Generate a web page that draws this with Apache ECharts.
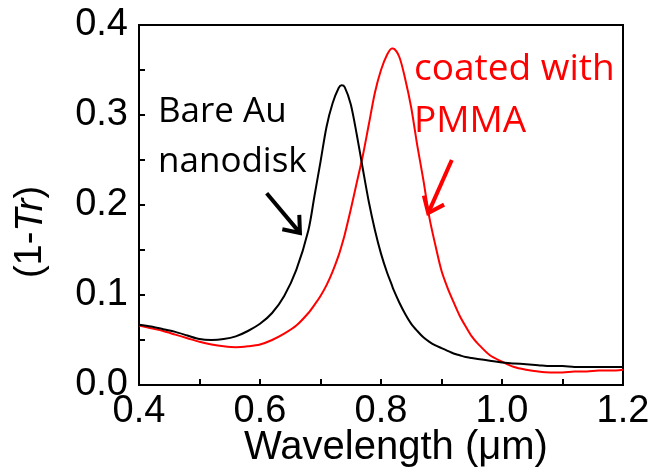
<!DOCTYPE html>
<html>
<head>
<meta charset="utf-8">
<script src="https://cdn.jsdelivr.net/npm/echarts@6/dist/echarts.min.js"></script>
<style>
html,body{margin:0;padding:0;background:#fff;}
#c{width:656px;height:469px;}
</style>
</head>
<body>
<div id="c"></div>
<script>
// Wavelength grid (µm)
const wavelength = [0.40,0.42,0.44,0.46,0.48,0.50,0.52,0.54,0.56,0.58,0.60,0.62,0.64,0.66,0.68,0.69,0.70,0.71,0.72,0.73,0.735,0.74,0.75,0.76,0.77,0.78,0.79,0.80,0.81,0.818,0.82,0.83,0.84,0.85,0.86,0.87,0.88,0.89,0.90,0.91,0.92,0.93,0.94,0.95,0.96,0.98,1.00,1.02,1.04,1.06,1.08,1.10,1.12,1.14,1.16,1.18,1.20];
// Bare Au nanodisk (1-Tr)
const bareAu = [0.067,0.065,0.062,0.059,0.055,0.051,0.050,0.051,0.054,0.060,0.068,0.080,0.099,0.128,0.172,0.210,0.248,0.287,0.313,0.330,0.333,0.331,0.312,0.278,0.240,0.203,0.172,0.146,0.125,0.111,0.107,0.092,0.079,0.068,0.060,0.053,0.048,0.044,0.041,0.038,0.035,0.033,0.031,0.030,0.029,0.027,0.025,0.024,0.023,0.022,0.021,0.021,0.020,0.020,0.020,0.020,0.020];
// Coated with PMMA (1-Tr)
const pmma = [0.066,0.063,0.060,0.056,0.052,0.048,0.045,0.043,0.042,0.043,0.045,0.050,0.057,0.066,0.080,0.089,0.099,0.111,0.126,0.144,0.155,0.167,0.195,0.225,0.255,0.290,0.325,0.350,0.367,0.374,0.374,0.365,0.340,0.308,0.266,0.228,0.186,0.155,0.127,0.108,0.092,0.077,0.065,0.054,0.046,0.033,0.026,0.020,0.017,0.015,0.014,0.014,0.015,0.015,0.016,0.016,0.017];
// Axis ranges / ticks (minor step; labels every second tick)
const xRange = [0.4, 1.2], xStep = 0.1;
const yRange = [0.0, 0.4], yStep = 0.05;
// Annotation arrows in data coordinates: [start, tip]
const arrowBare = [[0.611, 0.213], [0.666, 0.169]];
const arrowPmma = [[0.917, 0.250], [0.878, 0.191]];

const chart = echarts.init(document.getElementById('c'), null, {renderer: 'canvas'});
const axisFont = 'Liberation Sans, Arial, sans-serif';
const noteFont = 'Open Sans, sans-serif';

const option = {
  animation: false,
  backgroundColor: '#fff',
  grid: {left: 139, top: 25, right: 33, bottom: 84, show: true, borderColor: '#000', borderWidth: 2, outerBoundsMode: 'none'},
  xAxis: {
    type: 'value', min: xRange[0], max: xRange[1], interval: xStep,
    axisLine: {show: true, lineStyle: {color: '#000', width: 2}},
    axisTick: {show: true, inside: true, length: 6, lineStyle: {color: '#000', width: 2}},
    splitLine: {show: false},
    axisLabel: {color: '#000', fontFamily: axisFont, fontSize: 38, margin: 8,
      formatter: v => (Math.round(v * 10) % 2 === 0 ? v.toFixed(1) : '')}
  },
  yAxis: {
    type: 'value', min: yRange[0], max: yRange[1], interval: yStep,
    axisLine: {show: true, lineStyle: {color: '#000', width: 2}},
    axisTick: {show: true, inside: true, length: 6, lineStyle: {color: '#000', width: 2}},
    splitLine: {show: false},
    axisLabel: {color: '#000', fontFamily: axisFont, fontSize: 38, margin: 11,
      formatter: v => (Math.round(v * 20) % 2 === 0 ? v.toFixed(1) : '')}
  },
  series: [
    {name: 'Bare Au nanodisk', type: 'line', data: wavelength.map((w, i) => [w, bareAu[i]]), showSymbol: false, smooth: 0.3, lineStyle: {color: '#000', width: 2}, z: 3},
    {name: 'coated with PMMA', type: 'line', data: wavelength.map((w, i) => [w, pmma[i]]), showSymbol: false, smooth: 0.3, lineStyle: {color: '#ff0000', width: 2}, z: 2}
  ]
};
chart.setOption(option);

function arrowGraphics(pair, color) {
  const s = chart.convertToPixel({gridIndex: 0}, pair[0]);
  const t = chart.convertToPixel({gridIndex: 0}, pair[1]);
  const dx = t[0] - s[0], dy = t[1] - s[1];
  const len = Math.hypot(dx, dy);
  const ux = dx / len, uy = dy / len;
  const L = 18, a = 38 * Math.PI / 180;
  const arm = (sg) => {
    const c = Math.cos(sg * a), sn = Math.sin(sg * a);
    const rx = ux * c - uy * sn, ry = ux * sn + uy * c;
    return [t[0] - L * rx, t[1] - L * ry];
  };
  const st = {stroke: color, lineWidth: 4, fill: null, lineCap: 'butt', lineJoin: 'miter'};
  return [
    {type: 'polyline', shape: {points: [s, t]}, style: st, z: 10},
    {type: 'polyline', shape: {points: [arm(1), t, arm(-1)]}, style: st, z: 10}
  ];
}

chart.setOption({
  graphic: [
    {type: 'text', x: 396, y: 448, style: {text: 'Wavelength (\u03bcm)', font: '40px ' + axisFont, fill: '#000', align: 'center', verticalAlign: 'middle'}},
    {type: 'text', x: 31, y: 232, rotation: Math.PI / 2, style: {text: '(1-{i|Tr})', font: '38px ' + axisFont, fill: '#000', align: 'center', verticalAlign: 'middle', rich: {i: {fontStyle: 'italic', fontFamily: axisFont, fontSize: 38}}}},
    {type: 'text', x: 158, y: 112, style: {text: 'Bare Au', font: '35px ' + noteFont, fill: '#000', align: 'left', verticalAlign: 'middle'}},
    {type: 'text', x: 158, y: 162, style: {text: 'nanodisk', font: '35px ' + noteFont, fill: '#000', align: 'left', verticalAlign: 'middle'}},
    {type: 'text', x: 414, y: 69, style: {text: 'coated with', font: '37px ' + noteFont, fill: '#ff0000', align: 'left', verticalAlign: 'middle'}},
    {type: 'text', x: 414, y: 121, style: {text: 'PMMA', font: '37px ' + noteFont, fill: '#ff0000', align: 'left', verticalAlign: 'middle'}}
  ].concat(arrowGraphics(arrowBare, '#000'), arrowGraphics(arrowPmma, '#ff0000'))
});
</script>
</body>
</html>
